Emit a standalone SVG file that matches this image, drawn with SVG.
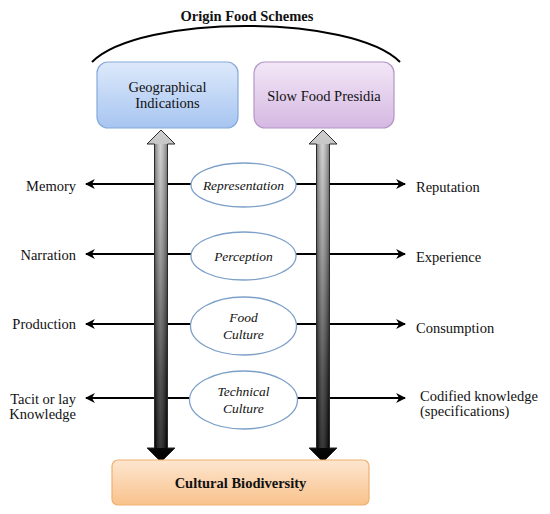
<svg xmlns="http://www.w3.org/2000/svg" width="550" height="514" viewBox="0 0 550 514">
<defs>
<style>
.lbl{font-family:"Liberation Serif","Times New Roman",serif;font-size:14.5px;fill:#111}
.it{font-family:"Liberation Serif","Times New Roman",serif;font-size:13.5px;font-style:italic;fill:#111}
.bold{font-family:"Liberation Serif","Times New Roman",serif;font-size:14.5px;font-weight:bold;fill:#111}
.ell{fill:#fff;stroke:#7da0c8;stroke-width:1.3}
.ln{stroke:#000;stroke-width:2.2;fill:none}
.shaft{stroke:#2a2a2a;stroke-width:1}
</style>
<linearGradient id="gBlue" x1="0" y1="0" x2="0" y2="1"><stop offset="0" stop-color="#dde9fb"/><stop offset="1" stop-color="#a7c5f1"/></linearGradient>
<linearGradient id="gPurp" x1="0" y1="0" x2="0" y2="1"><stop offset="0" stop-color="#f3e7f7"/><stop offset="1" stop-color="#d5b8e2"/></linearGradient>
<linearGradient id="gOr" x1="0" y1="0" x2="0" y2="1"><stop offset="0" stop-color="#fde6cf"/><stop offset="1" stop-color="#f9c28c"/></linearGradient>
<linearGradient id="gShaft" gradientUnits="userSpaceOnUse" x1="0" y1="130" x2="0" y2="462"><stop offset="0" stop-color="#cfcfcf"/><stop offset="0.35" stop-color="#8a8a8a"/><stop offset="0.75" stop-color="#2a2a2a"/><stop offset="1" stop-color="#000"/></linearGradient>
<linearGradient id="gSide" x1="0" y1="0" x2="1" y2="0"><stop offset="0" stop-color="#000" stop-opacity="0.35"/><stop offset="0.45" stop-color="#fff" stop-opacity="0.2"/><stop offset="1" stop-color="#000" stop-opacity="0.35"/></linearGradient>
<marker id="ah" viewBox="0 0 10 10" refX="9" refY="5" markerWidth="4.5" markerHeight="4.5" orient="auto-start-reverse" markerUnits="strokeWidth"><path d="M0,0 L10,5 L0,10 L3,5 Z" fill="#000"/></marker>
</defs>
<rect width="550" height="514" fill="#fff"/>

<g id="title">
<text class="bold" x="247" y="21" text-anchor="middle">Origin Food Schemes</text>
<path d="M92 62 C140 14 352 14 400 62" fill="none" stroke="#000" stroke-width="2"/>
</g>

<g id="connectors">
<line class="ln" x1="191" y1="184" x2="86" y2="184" marker-end="url(#ah)"/>
<line class="ln" x1="296" y1="184" x2="405" y2="184" marker-end="url(#ah)"/>
<line class="ln" x1="191" y1="254" x2="86" y2="254" marker-end="url(#ah)"/>
<line class="ln" x1="296" y1="254" x2="405" y2="254" marker-end="url(#ah)"/>
<line class="ln" x1="191" y1="324" x2="86" y2="324" marker-end="url(#ah)"/>
<line class="ln" x1="296" y1="324" x2="405" y2="324" marker-end="url(#ah)"/>
<line class="ln" x1="191" y1="398" x2="86" y2="398" marker-end="url(#ah)"/>
<line class="ln" x1="296" y1="398" x2="405" y2="398" marker-end="url(#ah)"/>
<polygon class="shaft" fill="url(#gShaft)" points="161,130 175,144 167.5,144 167.5,448 175,448 161,462 147,448 154.5,448 154.5,144 147,144"/>
<rect x="155" y="144" width="12" height="304" fill="url(#gSide)"/>
<polygon class="shaft" fill="url(#gShaft)" points="323,130 337,144 329.5,144 329.5,448 337,448 323,462 309,448 316.5,448 316.5,144 309,144"/>
<rect x="317" y="144" width="12" height="304" fill="url(#gSide)"/>
</g>

<g id="gi">
<rect x="97" y="62" width="141" height="66" rx="11" fill="url(#gBlue)" stroke="#86aadb" stroke-width="1.2"/>
<text class="lbl" x="167.5" y="92" text-anchor="middle">Geographical</text>
<text class="lbl" x="167.5" y="108" text-anchor="middle">Indications</text>
</g>
<g id="sfp">
<rect x="254" y="62" width="140" height="66" rx="11" fill="url(#gPurp)" stroke="#b396c6" stroke-width="1.2"/>
<text class="lbl" x="324" y="101" text-anchor="middle">Slow Food Presidia</text>
</g>

<g id="representation">
<ellipse class="ell" cx="243.5" cy="185" rx="52.5" ry="22"/>
<text class="it" x="243.5" y="190" text-anchor="middle">Representation</text>
</g>
<g id="perception">
<ellipse class="ell" cx="243.5" cy="256" rx="52.5" ry="24"/>
<text class="it" x="243.5" y="261" text-anchor="middle">Perception</text>
</g>
<g id="foodculture">
<ellipse class="ell" cx="243.5" cy="326" rx="53" ry="29"/>
<text class="it" x="243.5" y="322" text-anchor="middle">Food</text>
<text class="it" x="243.5" y="339" text-anchor="middle">Culture</text>
</g>
<g id="technicalculture">
<ellipse class="ell" cx="243.5" cy="400" rx="54" ry="29"/>
<text class="it" x="243.5" y="396" text-anchor="middle">Technical</text>
<text class="it" x="243.5" y="413" text-anchor="middle">Culture</text>
</g>

<g id="biodiversity">
<rect x="112" y="460" width="257" height="45" rx="6" fill="url(#gOr)" stroke="#efb06e" stroke-width="1.2"/>
<text class="bold" x="240.5" y="488" text-anchor="middle">Cultural Biodiversity</text>
</g>

<g id="left-labels">
<text class="lbl" x="76" y="191" text-anchor="end">Memory</text>
<text class="lbl" x="76" y="260" text-anchor="end">Narration</text>
<text class="lbl" x="76" y="329" text-anchor="end">Production</text>
<text class="lbl" x="76" y="404" text-anchor="end">Tacit or lay</text>
<text class="lbl" x="76" y="419" text-anchor="end">Knowledge</text>
</g>
<g id="right-labels">
<text class="lbl" x="416" y="192" text-anchor="start">Reputation</text>
<text class="lbl" x="416" y="262" text-anchor="start">Experience</text>
<text class="lbl" x="416" y="333" text-anchor="start">Consumption</text>
<text class="lbl" x="420" y="401" text-anchor="start">Codified knowledge</text>
<text class="lbl" x="420" y="416" text-anchor="start">(specifications)</text>
</g>
</svg>
